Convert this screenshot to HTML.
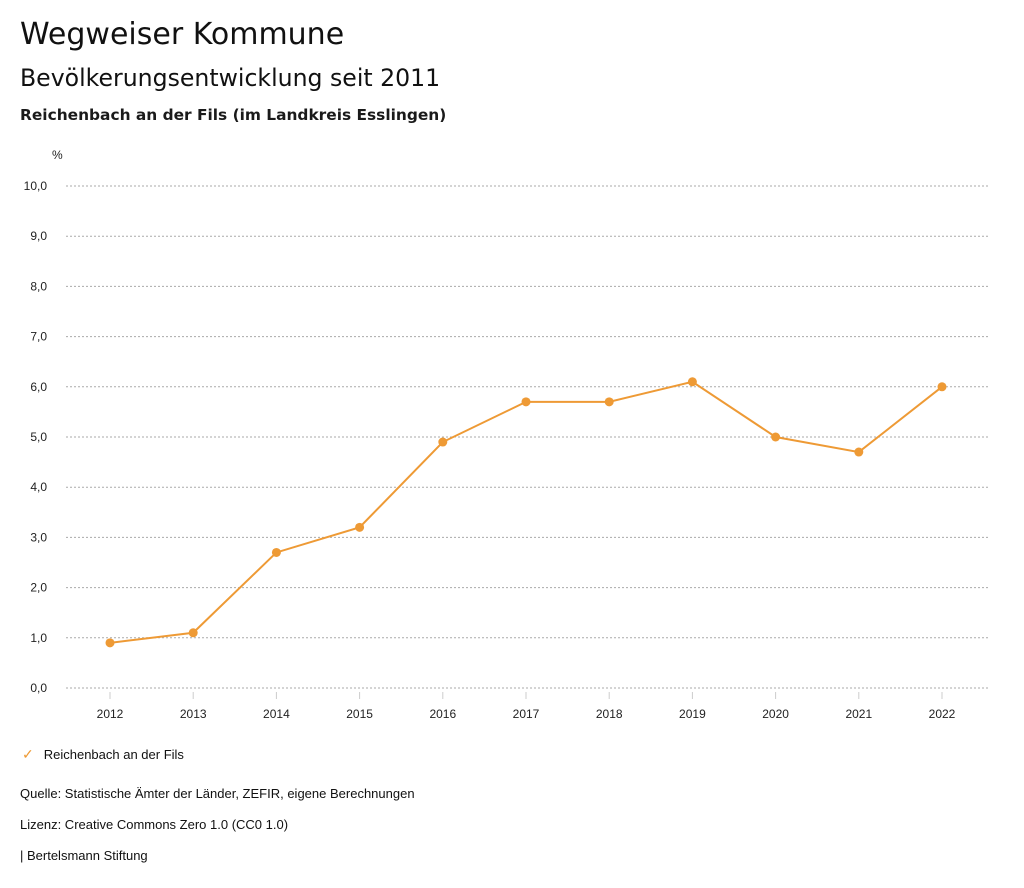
<!DOCTYPE html>
<html><head><meta charset="utf-8"><style>
body{margin:0;width:1024px;height:888px;background:#fff;font-family:"Liberation Sans",sans-serif;color:#111;position:relative;overflow:hidden}
.t{position:absolute;left:20px;white-space:nowrap}
</style></head><body>
<div class="t" style="top:17px;font-family:'DejaVu Sans',sans-serif;font-size:30px">Wegweiser Kommune</div>
<div class="t" style="top:64px;font-family:'DejaVu Sans',sans-serif;font-size:23.6px">Bevölkerungsentwicklung seit 2011</div>
<div class="t" style="top:106px;font-family:'DejaVu Sans',sans-serif;font-size:15.4px;font-weight:bold;color:#1a1a1a">Reichenbach an der Fils (im Landkreis Esslingen)</div>
<svg id="chart" width="1024" height="888" style="position:absolute;left:0;top:0" font-family="Liberation Sans, sans-serif" font-size="12"></svg>
<div class="t" style="top:746px;left:22px;font-size:13px"><span style="color:#ee9a35;font-size:14px;margin-right:10px">✓</span>Reichenbach an der Fils</div>
<div class="t" style="top:786px;font-size:13px">Quelle: Statistische Ämter der Länder, ZEFIR, eigene Berechnungen</div>
<div class="t" style="top:817px;font-size:13px">Lizenz: Creative Commons Zero 1.0 (CC0 1.0)</div>
<div class="t" style="top:848px;font-size:13px">| Bertelsmann Stiftung</div>
<script>
const years=[2012,2013,2014,2015,2016,2017,2018,2019,2020,2021,2022];
const values=[0.9,1.1,2.7,3.2,4.9,5.7,5.7,6.1,5.0,4.7,6.0];
const yTicks=[0,1,2,3,4,5,6,7,8,9,10];
const NS="http://www.w3.org/2000/svg";
const svg=document.getElementById('chart');
const x=i=>110+i*83.2;
const y=v=>688-v*50.2;
function mk(t,a,p){const e=document.createElementNS(NS,t);for(const k in a)e.setAttribute(k,a[k]);(p||svg).appendChild(e);return e;}
const pct=mk('text',{x:52,y:159,fill:'#222'});pct.textContent='%';


yTicks.forEach(v=>{
  const l=mk('line',{x1:66,x2:990,y1:y(v),y2:y(v),stroke:'#aaa','stroke-dasharray':'2,2','stroke-width':1});
  
  
  const t=mk('text',{x:47,y:y(v)+4,'text-anchor':'end',fill:'#222'});t.textContent=v.toFixed(1).replace('.',',');
  
  
});
years.forEach((yr,i)=>{
  const l=mk('line',{x1:x(i),x2:x(i),y1:692,y2:699,stroke:'#ccc'});
  
  
  const t=mk('text',{x:x(i),y:718,'text-anchor':'middle',fill:'#222'});t.textContent=yr;
  
  
});
const p=mk('polyline',{points:values.map((v,i)=>x(i)+','+y(v)).join(' '),fill:'none',stroke:'#ee9a35','stroke-width':2});


values.forEach((v,i)=>{
  const c=mk('circle',{cx:x(i),cy:y(v),r:4.5,fill:'#ee9a35'});
  
  
});
</script>
</body></html>
